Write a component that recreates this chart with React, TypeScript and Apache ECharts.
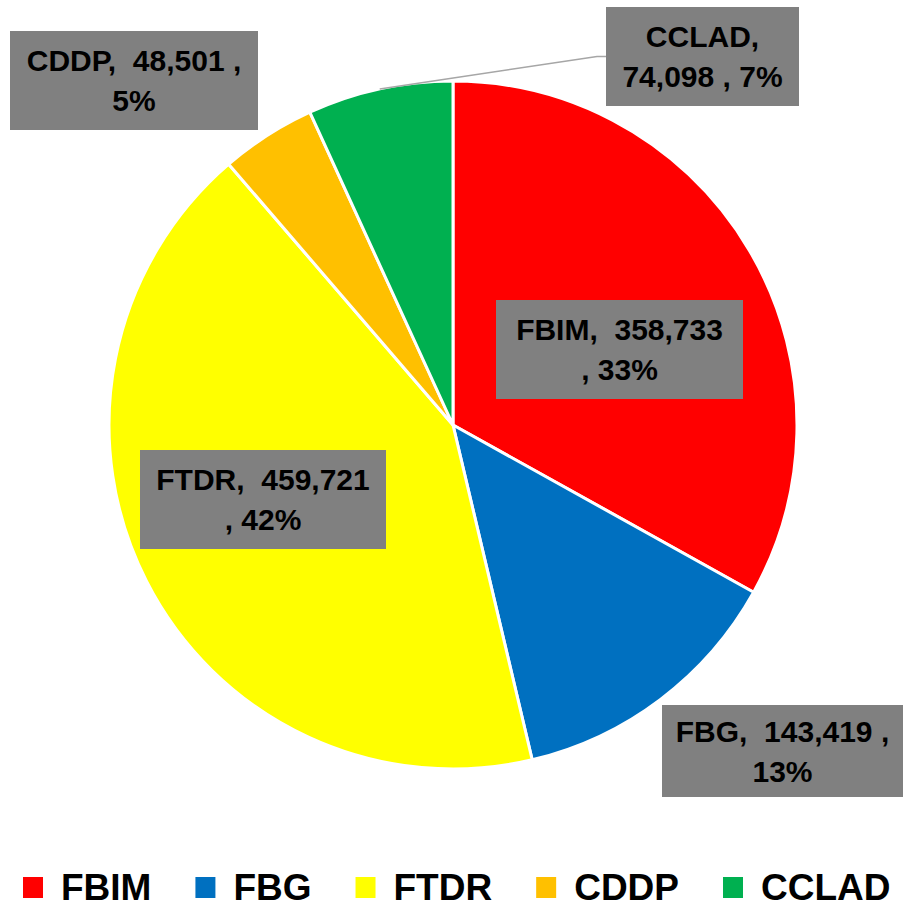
import React, { useEffect, useRef } from "react";
import * as echarts from "echarts";

const categories = ["FBIM", "FBG", "FTDR", "CDDP", "CCLAD"];
const values = [358733, 143419, 459721, 48501, 74098];
const colors = ["#FF0000", "#0070C0", "#FFFF00", "#FFC000", "#00B050"];
// how each label wraps
const wrapAfterName = [false, false, false, false, true];
// label box centers / sizes (layout)
const labelCenters = [
  [619.5, 349.5],
  [782.5, 751],
  [263, 499.5],
  [134, 80.5],
  [702.5, 56.5],
];
const labelSizes = [
  [247, 99],
  [241, 92],
  [246, 99],
  [248, 99],
  [193, 99],
];
const leaderIndex = 4;

const fmt = (v: number) => v.toLocaleString("en-US");

export default function App() {
  const ref = useRef<HTMLDivElement>(null);
  useEffect(() => {
    document.body.style.margin = "0";
    if (!ref.current) return;
    const chart = echarts.init(ref.current, null, { renderer: "svg" });
    const font = "'Liberation Sans', Arial, sans-serif";
    const cx0 = 453;
    const cy0 = 425;
    const r0 = 344;
    const total = values.reduce((a, b) => a + b, 0);

    // leader line for the CCLAD label: from slice mid-angle on the rim to the box
    let before = 0;
    for (let k = 0; k < leaderIndex; k++) before += values[k];
    const mid = ((before + values[leaderIndex] / 2) / total) * Math.PI * 2;
    const ax = cx0 + r0 * Math.sin(mid);
    const ay = cy0 - r0 * Math.cos(mid);
    const [lcx, lcy] = labelCenters[leaderIndex];
    const lleft = lcx - labelSizes[leaderIndex][0] / 2;

    chart.setOption({
      animation: false,
      color: colors,
      legend: {
        data: categories,
        left: 21,
        top: 869,
        padding: 0,
        icon: "rect",
        itemWidth: 22,
        itemHeight: 23,
        itemGap: 42,
        textStyle: {
          fontSize: 37,
          lineHeight: 37,
          fontWeight: "bold",
          fontFamily: font,
          color: "#000",
          padding: [0, 0, 0, 12],
        },
      },
      graphic: [
        {
          type: "polyline",
          silent: true,
          z: 100,
          shape: {
            points: [
              [ax, ay],
              [lleft - 9, lcy],
              [lleft, lcy],
            ],
          },
          style: { stroke: "#A6A6A6", lineWidth: 1.5, fill: null },
        },
      ],
      series: [
        {
          type: "pie",
          center: [cx0, cy0],
          radius: r0,
          startAngle: 90,
          clockwise: true,
          avoidLabelOverlap: false,
          percentPrecision: 0,
          itemStyle: { borderColor: "#fff", borderWidth: 3 },
          emphasis: { disabled: true },
          label: {
            show: true,
            position: "outside",
            fontSize: 30,
            fontWeight: "bold",
            fontFamily: font,
            color: "#000",
            backgroundColor: "#808080",
            lineHeight: 40,
            align: "center",
            verticalAlign: "middle",
            formatter: (p: any) => {
              const i = p.dataIndex;
              const name = categories[i];
              const val = fmt(values[i]);
              const pct = p.percent + "%";
              if (wrapAfterName[i]) return `${name},\n${val} , ${pct}`;
              if (i === 0 || i === 2) return `${name},  ${val}\n, ${pct}`;
              return `${name},  ${val} ,\n${pct}`;
            },
          },
          labelLine: { show: false },
          labelLayout: (params: any) => {
            const i = params.dataIndex;
            const [cx, cy] = labelCenters[i];
            const [w, h] = labelSizes[i];
            return {
              x: cx,
              y: cy,
              align: "center",
              verticalAlign: "middle",
              width: w,
              height: h,
            };
          },
          data: categories.map((c, i) => ({
            name: c,
            value: values[i],
            label: { width: labelSizes[i][0], height: labelSizes[i][1] },
          })),
        },
      ],
    });
    return () => chart.dispose();
  }, []);
  return <div ref={ref} style={{ width: 903, height: 907 }} />;
}
